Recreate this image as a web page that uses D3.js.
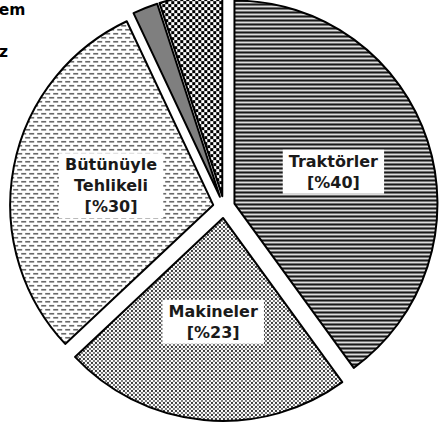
<!DOCTYPE html>
<html>
<head>
<meta charset="utf-8">
<script src="https://cdn.jsdelivr.net/npm/d3@7"></script>
<style>
  body { margin: 0; background: #fff; }
  svg { display: block; }
</style>
</head>
<body>
<svg id="chart"></svg>
<script>
// slice data, clockwise from 12 o'clock
const categories = ['Traktörler', 'Makineler', 'Bütünüyle Tehlikeli', 'Diğer', 'Sistem'];
const values = [40, 23, 30, 2, 5];
const labelLines = [['Traktörler', '[%40]'], ['Makineler', '[%23]'], ['Bütünüyle', 'Tehlikeli', '[%30]'], null, null];
const fills = ['url(#stripes)', 'url(#dots)', 'url(#dashes)', '#7f7f7f', 'url(#checker)'];
// cut-off outside labels on the left
const sideLabels = ['Koruyucu Sistem', 'Tehlikesiz'];

const width = 439;
const height = 427;
const radius = 203;
const explode = 11;
const cx = 224, cy = 207;

const svg = d3.select('#chart').attr('width', width).attr('height', height);

const defs = svg.append('defs');

let stripes = defs.append('pattern').attr('id', 'stripes')
  .attr('patternUnits', 'userSpaceOnUse').attr('width', 4).attr('height', 4);
stripes.append('rect').attr('width', 4).attr('height', 4).attr('fill', '#fff');
stripes.append('rect').attr('width', 4).attr('height', 2).attr('fill', '#1a1a1a');
stripes.append('rect').attr('y', 3).attr('width', 4).attr('height', 1).attr('fill', '#aaa');

let dots = defs.append('pattern').attr('id', 'dots')
  .attr('patternUnits', 'userSpaceOnUse').attr('width', 4).attr('height', 4);
dots.append('rect').attr('width', 4).attr('height', 4).attr('fill', '#fff');
dots.append('rect').attr('width', 2).attr('height', 2).attr('fill', '#3a3a3a');
dots.append('rect').attr('x', 2).attr('y', 2).attr('width', 2).attr('height', 2).attr('fill', '#777');

let dashes = defs.append('pattern').attr('id', 'dashes')
  .attr('patternUnits', 'userSpaceOnUse').attr('width', 8).attr('height', 8);
dashes.append('rect').attr('width', 8).attr('height', 8).attr('fill', '#fff');
dashes.append('rect').attr('width', 5).attr('height', 1.6).attr('fill', '#666');
dashes.append('rect').attr('x', 4).attr('y', 4).attr('width', 4).attr('height', 1.6).attr('fill', '#666');
dashes.append('rect').attr('x', 0).attr('y', 4).attr('width', 1).attr('height', 1.6).attr('fill', '#666');

let checker = defs.append('pattern').attr('id', 'checker')
  .attr('patternUnits', 'userSpaceOnUse').attr('width', 6).attr('height', 6);
checker.append('rect').attr('width', 6).attr('height', 6).attr('fill', '#fff');
checker.append('rect').attr('width', 3).attr('height', 3).attr('fill', '#000');
checker.append('rect').attr('x', 3).attr('y', 3).attr('width', 3).attr('height', 3).attr('fill', '#000');

const pie = d3.pie().sort(null).value(d => d);
const arcs = pie(values);

const arc = d3.arc().innerRadius(0).outerRadius(radius);
const labelArc = d3.arc().innerRadius(104).outerRadius(104);

let offset = (d) => {
  let mid = (d.startAngle + d.endAngle) / 2;
  return [explode * Math.sin(mid), -explode * Math.cos(mid)];
};

const g = svg.append('g').attr('transform', `translate(${cx}, ${cy})`);

const slices = g.selectAll('g.slice')
  .data(arcs)
  .enter()
  .append('g')
  .attr('class', 'slice')
  .attr('transform', d => `translate(${offset(d)[0]}, ${offset(d)[1]})`);

slices.append('path')
  .attr('d', arc)
  .attr('fill', (d, i) => fills[i])
  .attr('stroke', '#000')
  .attr('stroke-width', 2)
  .attr('stroke-linejoin', 'round');

const fontSize = 16;
const lineH = 21;

slices.each(function (d, i) {
  if (!labelLines[i]) return;
  let [lx, ly] = labelArc.centroid(d);
  let lines = labelLines[i];
  let grp = d3.select(this).append('g');
  let box = grp.append('rect').attr('fill', '#fff');
  let txt = grp.append('text')
    .attr('text-anchor', 'middle')
    .attr('font-family', 'DejaVu Sans, Verdana, sans-serif')
    .attr('font-weight', 'bold')
    .attr('font-size', fontSize)
    .attr('fill', '#1a1a1a');
  lines.forEach((line, k) => {
    txt.append('tspan')
      .attr('x', lx)
      .attr('y', ly + (k - (lines.length - 1) / 2) * lineH + fontSize * 0.36)
      .text(line);
  });
  let bb = txt.node().getBBox();
  box.attr('x', bb.x - 6).attr('y', bb.y - 2)
    .attr('width', bb.width + 12).attr('height', bb.height + 4);
});

svg.selectAll('text.side')
  .data(sideLabels)
  .enter()
  .append('text')
  .attr('class', 'side')
  .attr('x', (d, i) => i === 0 ? 25.5 : 8)
  .attr('y', (d, i) => i === 0 ? 15 : 57)
  .attr('text-anchor', 'end')
  .attr('font-family', 'DejaVu Sans, Verdana, sans-serif')
  .attr('font-weight', 'bold')
  .attr('font-size', 15.5)
  .attr('fill', '#000')
  .text(d => d);
</script>
</body>
</html>
